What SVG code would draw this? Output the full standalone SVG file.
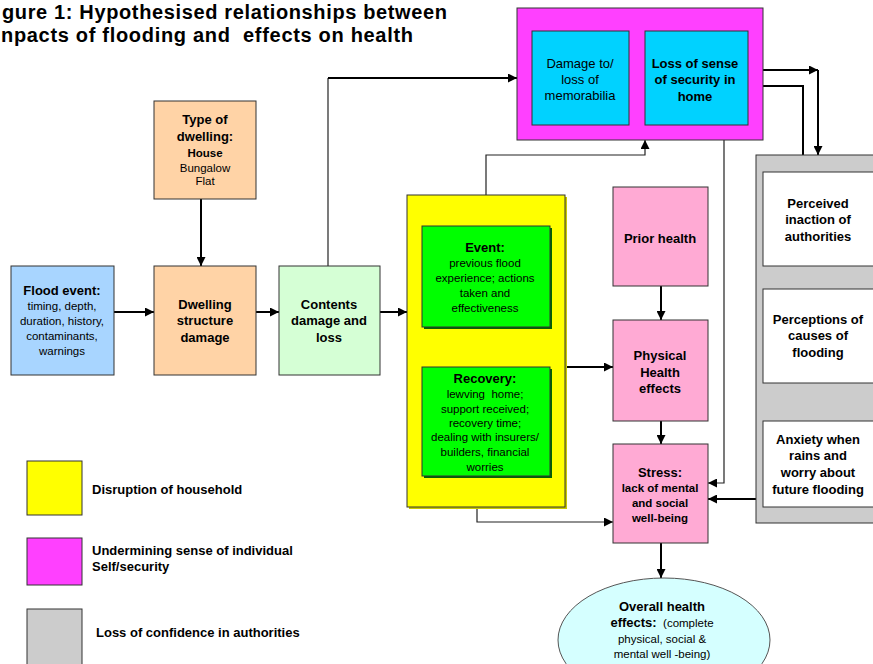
<svg xmlns="http://www.w3.org/2000/svg" width="873" height="664" viewBox="0 0 873 664">
<defs>
<marker id="ah" viewBox="0 0 10 10" refX="10" refY="5" markerWidth="9" markerHeight="9" markerUnits="userSpaceOnUse" orient="auto"><path d="M0,0 L10,5 L0,10 z" fill="#000"/></marker>
<style>
text{font-family:"Liberation Sans",Arial,sans-serif;fill:#000;text-anchor:middle}
.b{font-weight:bold;font-size:13px}
.n{font-size:13px}
.s{font-size:11.5px}
.sb{font-size:11.5px;font-weight:bold}
.box{stroke:#333;stroke-width:1}
.c{fill:none;stroke:#000;stroke-width:2}
.t{fill:none;stroke:#222;stroke-width:1.2}
.lg{font-weight:bold;font-size:13px;text-anchor:start}
.pre{white-space:pre}
</style>
</defs>
<rect width="873" height="664" fill="#fff"/>
<g id="title">
<text x="2" y="19" font-size="20" font-weight="bold" style="text-anchor:start" textLength="445" lengthAdjust="spacing">gure 1: Hypothesised relationships between</text>
<text class="pre" xml:space="preserve" x="1" y="42" font-size="20" font-weight="bold" style="text-anchor:start" textLength="412" lengthAdjust="spacing">npacts of flooding and  effects on health</text>
</g>
<g id="connectors">
<path class="c" d="M201,199 V266" marker-end="url(#ah)"/>
<path class="c" d="M114,312 H154" marker-end="url(#ah)"/>
<path class="c" d="M256,312 H279" marker-end="url(#ah)"/>
<path class="c" d="M380,312 H407" marker-end="url(#ah)"/>
<path class="t" d="M328,266 V78"/>
<path class="c" d="M328,78 H517" marker-end="url(#ah)"/>
<path class="c" d="M629,78 H645" marker-end="url(#ah)"/>
<path class="t" d="M486,195 V155 H645 V140" marker-end="url(#ah)"/>
<path class="c" d="M763,70 H818" marker-end="url(#ah)"/>
<path class="c" d="M818,70 V155" marker-end="url(#ah)"/>
<path class="c" d="M803,155 V86 H748" marker-end="url(#ah)"/>
<path class="t" d="M724,140 V483 H708" marker-end="url(#ah)"/>
<path class="c" d="M756,499 H708" marker-end="url(#ah)"/>
<path class="c" d="M566,367 H613" marker-end="url(#ah)"/>
<path class="t" d="M477,507 V522 H613" marker-end="url(#ah)"/>
<path class="c" d="M661,286 V320" marker-end="url(#ah)"/>
<path class="c" d="M661,421 V444" marker-end="url(#ah)"/>
<path class="c" d="M661,543 V578" marker-end="url(#ah)"/>
</g>
<g id="magenta-group">
<rect class="box" x="517" y="8" width="246" height="132" fill="#FF40FF"/>
</g>
<g id="damage-memorabilia">
<rect class="box" x="532" y="31" width="97" height="94" fill="#00D2FF"/>
<text class="n" x="580" y="68">Damage to/</text>
<text class="n" x="580" y="84">loss of</text>
<text class="n" x="580" y="100">memorabilia</text>
</g>
<g id="loss-security">
<rect class="box" x="645" y="31" width="103" height="94" fill="#00D2FF"/>
<text class="b" x="695" y="68">Loss of sense</text>
<text class="b" x="695" y="84">of security in</text>
<text class="b" x="695" y="101">home</text>
</g>
<g id="type-dwelling">
<rect class="box" x="154" y="101" width="102" height="98" fill="#FFD3A6"/>
<text class="b" x="205" y="124">Type of</text>
<text class="b" x="205" y="141">dwelling:</text>
<text class="sb" x="205" y="157">House</text>
<text class="s" x="205" y="172">Bungalow</text>
<text class="s" x="205" y="185">Flat</text>
</g>
<g id="flood-event">
<rect class="box" x="11" y="266" width="103" height="109" fill="#A8D5FF"/>
<text class="b" x="62" y="295">Flood event:</text>
<text class="s" x="62" y="310">timing, depth,</text>
<text class="s" x="62" y="325">duration, history,</text>
<text class="s" x="62" y="340">contaminants,</text>
<text class="s" x="62" y="355">warnings</text>
</g>
<g id="dwelling-structure">
<rect class="box" x="154" y="266" width="102" height="109" fill="#FFD3A6"/>
<text class="b" x="205" y="309">Dwelling</text>
<text class="b" x="205" y="325">structure</text>
<text class="b" x="205" y="342">damage</text>
</g>
<g id="contents">
<rect class="box" x="279" y="266" width="101" height="109" fill="#D5FFD5"/>
<text class="b" x="329" y="309">Contents</text>
<text class="b" x="329" y="325">damage and</text>
<text class="b" x="329" y="342">loss</text>
</g>
<g id="yellow-group">
<rect x="409" y="197" width="158" height="312" fill="#C8C800"/>
<rect class="box" x="407" y="195" width="158" height="312" fill="#FFFF00"/>
</g>
<g id="event">
<rect x="424" y="228" width="128" height="101" fill="#006600"/>
<rect class="box" x="422" y="226" width="128" height="101" fill="#00FF00"/>
<text class="b" x="485" y="252">Event:</text>
<text class="s" x="485" y="267">previous flood</text>
<text class="s" x="485" y="282">experience; actions</text>
<text class="s" x="485" y="297">taken and</text>
<text class="s" x="485" y="312">effectiveness</text>
</g>
<g id="recovery">
<rect x="424" y="369" width="128" height="109" fill="#006600"/>
<rect class="box" x="422" y="367" width="128" height="109" fill="#00FF00"/>
<text class="b" x="485" y="383">Recovery:</text>
<text class="s pre" xml:space="preserve" x="485" y="398">lewving  home;</text>
<text class="s" x="485" y="413">support received;</text>
<text class="s" x="485" y="427">recovery time;</text>
<text class="s" x="485" y="441">dealing with insurers/</text>
<text class="s" x="485" y="456">builders, financial</text>
<text class="s" x="485" y="471">worries</text>
</g>
<g id="prior-health">
<rect class="box" x="613" y="187" width="95" height="99" fill="#FFAAD4"/>
<text class="b" x="660" y="243">Prior health</text>
</g>
<g id="physical-health">
<rect class="box" x="613" y="320" width="95" height="101" fill="#FFAAD4"/>
<text class="b" x="660" y="360">Physical</text>
<text class="b" x="660" y="377">Health</text>
<text class="b" x="660" y="393">effects</text>
</g>
<g id="stress">
<rect class="box" x="613" y="444" width="95" height="99" fill="#FFAAD4"/>
<text class="b" x="660" y="477">Stress:</text>
<text class="sb" x="660" y="492">lack of mental</text>
<text class="sb" x="660" y="507">and social</text>
<text class="sb" x="660" y="522">well-being</text>
</g>
<g id="grey-group">
<rect class="box" x="756" y="155" width="130" height="368" fill="#CCCCCC"/>
</g>
<g id="perceived-inaction">
<rect class="box" x="763" y="172" width="120" height="94" fill="#FFFFFF"/>
<text class="b" x="818" y="208">Perceived</text>
<text class="b" x="818" y="224">inaction of</text>
<text class="b" x="818" y="241">authorities</text>
</g>
<g id="perceptions-causes">
<rect class="box" x="763" y="289" width="120" height="94" fill="#FFFFFF"/>
<text class="b" x="818" y="324">Perceptions of</text>
<text class="b" x="818" y="340">causes of</text>
<text class="b" x="818" y="357">flooding</text>
</g>
<g id="anxiety">
<rect class="box" x="763" y="421" width="120" height="86" fill="#FFFFFF"/>
<text class="b" x="818" y="444">Anxiety when</text>
<text class="b" x="818" y="460">rains and</text>
<text class="b" x="818" y="477">worry about</text>
<text class="b" x="818" y="494">future flooding</text>
</g>
<g id="overall-health">
<ellipse cx="664" cy="640" rx="106" ry="62" fill="#D5FFFF" stroke="#555" stroke-width="1"/>
<text class="b" x="662" y="611">Overall health</text>
<text class="pre" xml:space="preserve" x="662" y="627"><tspan font-weight="bold" font-size="13">effects:</tspan><tspan font-size="11.5">  (complete</tspan></text>
<text class="s" x="662" y="643">physical, social &amp;</text>
<text class="s" x="662" y="658">mental well -being)</text>
</g>
<g id="legend">
<rect class="box" x="27" y="461" width="55" height="54" fill="#FFFF00"/>
<text class="lg" x="92" y="494">Disruption of household</text>
<rect class="box" x="27" y="538" width="55" height="47" fill="#FF40FF"/>
<text class="lg" x="92" y="555">Undermining sense of individual</text>
<text class="lg" x="92" y="571">Self/security</text>
<rect class="box" x="27" y="609" width="55" height="60" fill="#CCCCCC"/>
<text class="lg" x="96" y="637">Loss of confidence in authorities</text>
</g>
</svg>
